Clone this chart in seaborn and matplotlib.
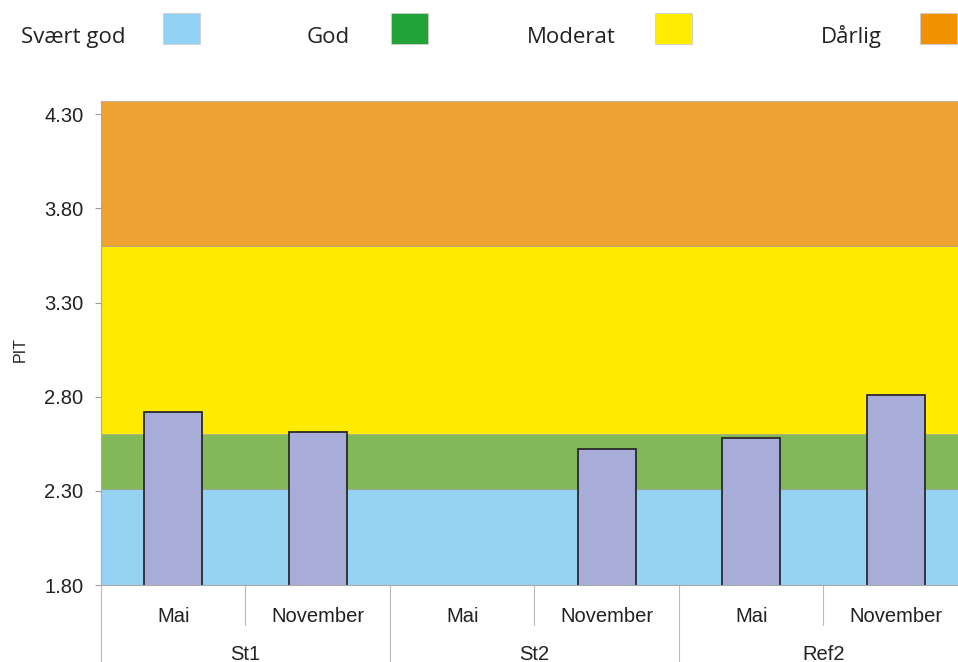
import numpy as np
import pandas as pd
import matplotlib
matplotlib.use("Agg")
import matplotlib.pyplot as plt
import matplotlib.transforms as mtransforms
from matplotlib.patches import Rectangle
import seaborn as sns

# ---- data ----
groups = ["St1", "St2", "Ref2"]
months = ["Mai", "November"]
pit_values = [2.72, 2.61, np.nan, 2.52, 2.58, 2.81]
y_ticks = [1.80, 2.30, 2.80, 3.30, 3.80, 4.30]
class_names = ["Svært god", "God", "Moderat", "Dårlig"]
class_bounds = [1.80, 2.31, 2.60, 3.60, 4.37]
band_colors = ["#94D3F3", "#82B958", "#FFEB00", "#EEA232"]
legend_colors = ["#92D3F5", "#22A33A", "#FFEC00", "#F39200"]

# ---- frame ----
keys = [f"{g}|{m}" for g in groups for m in months]
df = pd.DataFrame({"key": keys, "PIT": pit_values})

sns.set_theme(style="white")
plt.rcParams["font.family"] = ["Liberation Sans", "DejaVu Sans"]

fig = plt.figure(figsize=(9.58, 6.62), dpi=100)
ax = fig.add_axes([0.1054, 0.1163, 0.9050, 0.7311])

# class bands
for lo, hi, c in zip(class_bounds[:-1], class_bounds[1:], band_colors):
    ax.axhspan(lo, hi, facecolor=c, edgecolor="#9a9a9a", linewidth=0.4, zorder=0)

sns.barplot(data=df, x="key", y="PIT", order=keys, color="#A8ACD8",
            edgecolor="#2a2a2a", linewidth=1.3, width=0.4, errorbar=None,
            saturation=1, ax=ax, zorder=3)

ax.set_xlim(-0.5, len(keys) - 0.5)
ax.set_ylim(class_bounds[0], class_bounds[-1])
ax.set_yticks(y_ticks)
ax.set_yticklabels([f"{v:.2f}" for v in y_ticks], fontsize=14.5, color="#222222")
ax.tick_params(axis="y", length=4.5, width=0.8, color="#9a9a9a", pad=8, left=True)
ax.set_xticks([])
ax.set_xlabel("")
ax.set_ylabel("")
for s in ["top", "right"]:
    ax.spines[s].set_visible(False)
ax.spines["left"].set_color("#aaaaaa")
ax.spines["left"].set_linewidth(0.8)
ax.spines["bottom"].set_color("#aaaaaa")
ax.spines["bottom"].set_linewidth(0.8)

# multi-level x labels
trans = mtransforms.blended_transform_factory(ax.transData, ax.transAxes)
for i, k in enumerate(keys):
    m = k.split("|")[1]
    ax.text(i, -0.0764, m, transform=trans, ha="center", va="baseline",
            fontsize=14.5, color="#222222")
for j, g in enumerate(groups):
    center = j * len(months) + (len(months) - 1) / 2
    ax.text(center, -0.154, g, transform=trans, ha="center", va="baseline",
            fontsize=14.5, color="#222222")
for i in range(len(keys) + 1):
    x = i - 0.5
    y_end = -0.17 if i % len(months) == 0 else -0.083
    ax.plot([x, x], [0, y_end], transform=trans, color="#bbbbbb",
            linewidth=0.8, clip_on=False)

fig.text(20 / 958, 1 - 350 / 662, "PIT", rotation=90, ha="center", va="center",
         fontsize=11.5, color="#222222")

# legend across the top
text_x = [21, 307, 527, 821]
box_x = [163, 391, 655, 920]
for name, tx, bx, c in zip(class_names, text_x, box_x, legend_colors):
    fig.text(tx / 958, 1 - 43 / 662, name, ha="left", va="baseline",
             fontsize=16, color="#222222",
             family=["Open Sans", "Liberation Sans", "DejaVu Sans"])
    fig.patches.append(Rectangle((bx / 958, 1 - 44 / 662), 37 / 958, 31 / 662,
                                 transform=fig.transFigure, facecolor=c,
                                 edgecolor="#cfcfcf", linewidth=0.6))

fig.savefig("out.png", dpi=100)
